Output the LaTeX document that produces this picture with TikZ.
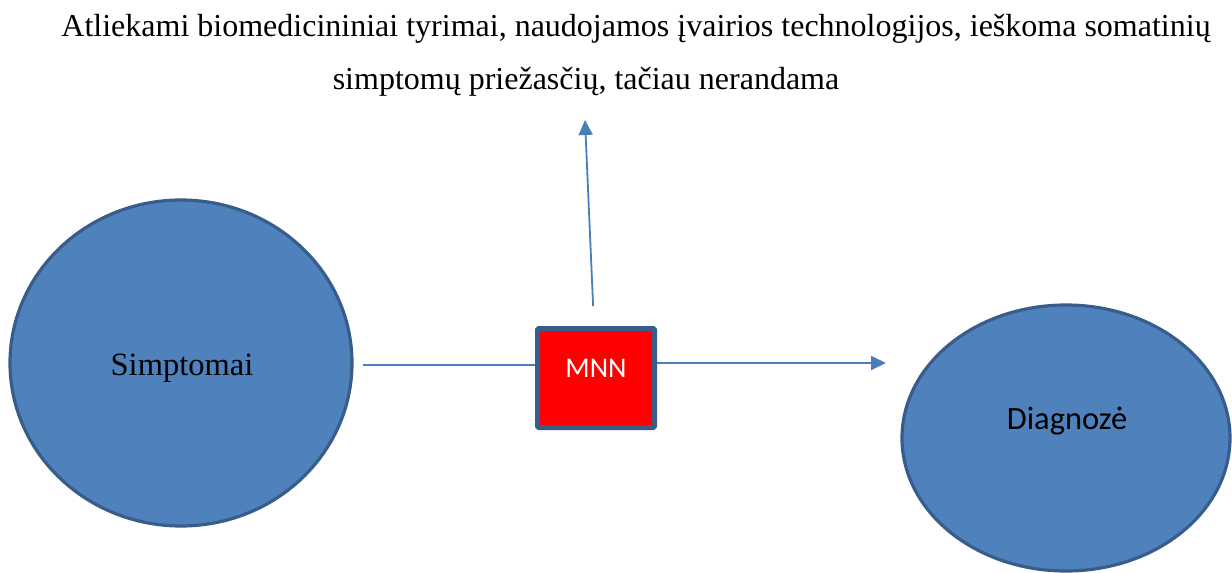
\documentclass[tikz,border=0pt]{standalone}
\usepackage{fontspec}
\setmainfont{Liberation Serif}
\newfontfamily\calibri{Carlito}
\usetikzlibrary{shapes.geometric,arrows.meta}
\definecolor{ofill}{HTML}{4F81BD}
\definecolor{oline}{HTML}{385D8A}
\definecolor{aline}{HTML}{4A7EBB}
\tikzset{
  blob/.style={ellipse, fill=ofill, draw=oline, line width=3.2pt, inner sep=0pt},
  mnnbox/.style={rectangle, fill=red, draw=oline, line width=5pt, rounded corners=1.5pt, inner sep=0pt},
  conn/.style={draw=aline, line width=1.8pt},
  tip/.style={-{Triangle[length=15pt,width=14pt]}},
  toptext/.style={font=\fontsize{32}{36}\selectfont, anchor=base, inner sep=0pt}
}
\begin{document}
\begin{tikzpicture}[x=1pt,y=-1pt]
\useasboundingbox (0,0) rectangle (1232,573);
\node[toptext] (t1) at (636,36) {Atliekami biomedicininiai tyrimai, naudojamos įvairios technologijos, ieškoma somatinių};
\node[toptext] (t2) at (586,89) {simptomų priežasčių, tačiau nerandama};
\node[blob, minimum width=342pt, minimum height=326pt] (s) at (181,363) {};
\node[font=\fontsize{32.5}{36}\selectfont, anchor=base] (sl) at (182,375) {Simptomai};
\node[blob, minimum width=328pt, minimum height=266pt] (d) at (1066,438) {};
\node[font=\calibri\fontsize{32.5}{36}\selectfont, anchor=base] (dl) at (1067,429) {Diagnozė};
\node[mnnbox, minimum width=117pt, minimum height=99pt] (m) at (596,378) {};
\node[font=\calibri\fontsize{28.5}{32}\selectfont, text=white, anchor=base] (ml) at (596,377) {MNN};
\coordinate (rtip) at (886,363);
\coordinate (utip) at (585,120);
\draw[conn, shorten <=9pt] (s.east |- 0,365) -- (m.west |- 0,365);
\draw[conn, tip] (m.east |- 0,363) -- (rtip);
\draw[conn, tip, shorten <=20pt] (m.north -| 594,0) -- (utip);
\end{tikzpicture}
\end{document}
